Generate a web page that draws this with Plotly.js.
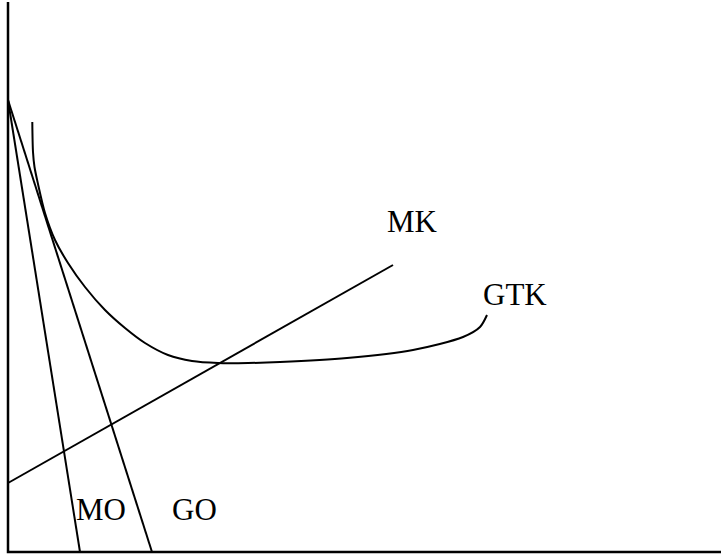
<!DOCTYPE html>
<html>
<head>
<meta charset="utf-8">
<script src="https://cdn.plot.ly/plotly-3.0.1.min.js"></script>
<style>
  html, body { margin: 0; padding: 0; background: #fff; }
  #myGraph { width: 721px; height: 556px; }
</style>
</head>
<body>
<div id="myGraph"></div>
<script>
// 座標軸 (原點在左下角)
let axisX = [0, 0, 713];
let axisY = [550, 0, 0];

// MO、GO 兩條直線 (從縱軸同一點往下)
let moX = [0, 72];
let moY = [452, 0];
let goX = [0, 144];
let goY = [452, 0];

// MK 直線
let mkX = [0, 385];
let mkY = [69, 287];

// GTK 曲線
let gtkX = [24.3, 25, 26.5, 30, 37, 47, 60, 77, 97, 117, 137, 160, 184, 210, 240, 272, 339, 405, 455, 472, 479];
let gtkY = [430, 400, 385, 368, 339, 312, 289, 265, 242, 224, 209, 197, 191, 189, 189, 190, 194, 202, 215, 225, 237];

// 標籤
let labelText = ['MK', 'GTK', 'MO', 'GO'];
let labelX = [379, 475, 68, 164];
let labelY = [328, 255, 40, 40];

let myGraph = document.getElementById('myGraph');

function lineTrace(x, y, w, shape) {
    return {
        type: 'scatter',
        mode: 'lines',
        x: x,
        y: y,
        line: { color: 'black', width: w, shape: shape || 'linear', smoothing: 0.8 },
        hoverinfo: 'skip',
        showlegend: false
    };
}

let data = [];
data.push(lineTrace(moX, moY, 2));
data.push(lineTrace(goX, goY, 2));
data.push(lineTrace(mkX, mkY, 2));
data.push(lineTrace(gtkX, gtkY, 2, 'spline'));
data.push(lineTrace(axisX, axisY, 2.5));
data.push({
    type: 'scatter',
    mode: 'text',
    x: labelX,
    y: labelY,
    text: labelText,
    textposition: 'middle right',
    textfont: { family: 'Liberation Serif, serif', size: 31, color: 'black' },
    hoverinfo: 'skip',
    showlegend: false
});

let layout = {
    width: 721,
    height: 556,
    margin: { t: 0, r: 0, l: 0, b: 0 },
    paper_bgcolor: 'white',
    plot_bgcolor: 'white',
    xaxis: { range: [-8, 713], visible: false, fixedrange: true },
    yaxis: { range: [-4, 552], visible: false, fixedrange: true },
    showlegend: false
};

Plotly.newPlot(myGraph, data, layout, { displayModeBar: false, staticPlot: true });
</script>
</body>
</html>
